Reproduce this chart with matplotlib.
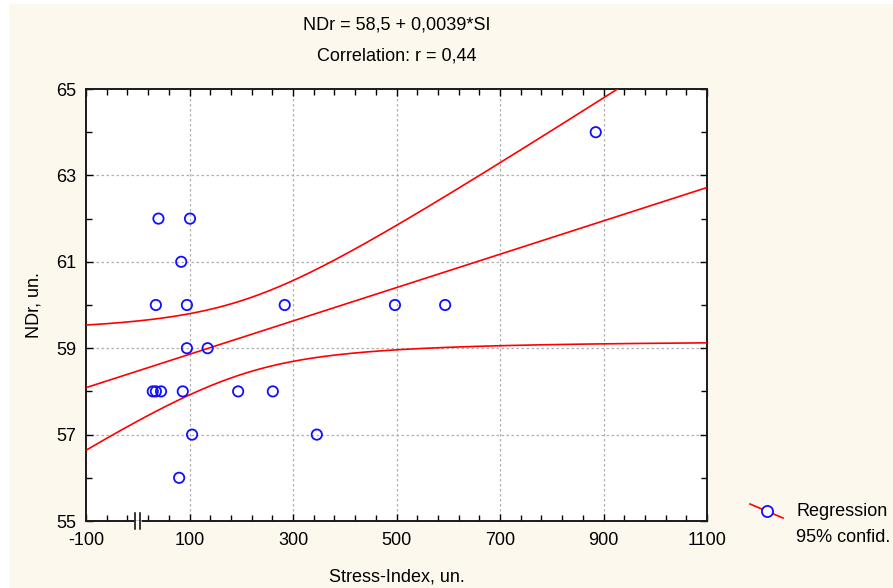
import numpy as np
import matplotlib
matplotlib.use("Agg")
import matplotlib.pyplot as plt
from matplotlib.patches import Rectangle
from matplotlib.lines import Line2D

stress_index = [40, 101, 84, 35, 95, 284, 497, 594, 95, 135,
                29, 35, 45, 87, 194, 261, 105, 346, 80, 885]
ndr = [62, 62, 61, 60, 60, 60, 60, 60, 59, 59,
       58, 58, 58, 58, 58, 58, 57, 57, 56, 64]
x_ticks = [-100, 100, 300, 500, 700, 900, 1100]
y_ticks = [55, 57, 59, 61, 63, 65]
title_lines = ["NDr = 58,5 + 0,0039*SI", "Correlation: r = 0,44"]
legend_labels = ["Regression", "95% confid."]

plt.rcParams['font.family'] = ['Liberation Sans', 'DejaVu Sans']
plt.rcParams['axes.unicode_minus'] = False

W, H = 893, 588
fig = plt.figure(figsize=(W / 100, H / 100), dpi=100)
fig.patch.set_facecolor('white')
fig.patches.append(Rectangle((9 / W, 0), 1 - 9 / W, 1 - 4 / H, transform=fig.transFigure,
                             facecolor='#fdf8ee', edgecolor='none', zorder=-10))

ax = fig.add_axes([86 / W, 1 - 521 / H, (707 - 86) / W, (521 - 89) / H])
ax.set_facecolor('white')

x = np.array(stress_index, float)
y = np.array(ndr, float)
n = len(x)
b, a = np.polyfit(x, y, 1)
xs = np.linspace(-100, 1100, 300)
yhat = a + b * xs
resid = y - (a + b * x)
s = np.sqrt(np.sum(resid ** 2) / (n - 2))
t = 2.101
se = s * np.sqrt(1 / n + (xs - x.mean()) ** 2 / np.sum((x - x.mean()) ** 2))
ax.plot(xs, yhat, color='red', lw=1.2, zorder=3)
ax.plot(xs, yhat + t * se, color='red', lw=1.2, zorder=3)
ax.plot(xs, yhat - t * se, color='red', lw=1.2, zorder=3)

ax.scatter(x, y, s=55, facecolors='none', edgecolors='#1010ff', linewidths=1.3, zorder=4)

ax.set_xlim(-100, 1100)
ax.set_ylim(55, 65)
ax.set_xticks(x_ticks)
ax.set_yticks(y_ticks)
ax.set_xticks(np.arange(-100, 1101, 40), minor=True)
ax.set_yticks(np.arange(55, 66, 1), minor=True)
ax.tick_params(which='both', direction='in', top=True, right=True, labelsize=13,
               length=4, width=1, color='black')
ax.tick_params(which='major', length=5)
ax.tick_params(axis='x', which='major', pad=8)
ax.tick_params(axis='y', which='major', pad=7)
for sp in ax.spines.values():
    sp.set_linewidth(1.4)
    sp.set_color('#1a1a1a')

for v in x_ticks[1:-1]:
    ax.axvline(v, color='#b0b0b0', ls=(0, (2, 2)), lw=0.9, zorder=1)
for v in y_ticks[1:-1]:
    ax.axhline(v, color='#b0b0b0', ls=(0, (2, 2)), lw=0.9, zorder=1)

# axis break mark
ax.plot([-6, 4], [55, 55], color='white', lw=1.8, clip_on=False, zorder=4.5)
ax.plot([-6, -6], [54.81, 55.19], color='black', lw=1.1, clip_on=False, zorder=5)
ax.plot([4, 4], [54.81, 55.19], color='black', lw=1.1, clip_on=False, zorder=5)

ax.set_xlabel("Stress-Index, un.", fontsize=13, labelpad=14)
ax.set_ylabel("NDr, un.", fontsize=13, labelpad=10)

cx = (86 + 707) / 2 / W
fig.text(cx, 1 - 25 / H, title_lines[0], ha='center', va='center', fontsize=13)
fig.text(cx, 1 - 56 / H, title_lines[1], ha='center', va='center', fontsize=13)

# legend
fig.add_artist(Line2D([750 / W, 783 / W], [1 - 504 / H, 1 - 518 / H], color='red', lw=1.2,
                      transform=fig.transFigure))
fig.add_artist(Line2D([767 / W], [1 - 511 / H], marker='o', markersize=8,
                      markerfacecolor='white', markeredgecolor='#1010ff', markeredgewidth=1.3,
                      transform=fig.transFigure))
fig.text(796 / W, 1 - 512 / H, legend_labels[0], ha='left', va='center', fontsize=13)
fig.text(796 / W, 1 - 537 / H, legend_labels[1], ha='left', va='center', fontsize=13)

fig.savefig("out.png", dpi=100, facecolor=fig.get_facecolor())
